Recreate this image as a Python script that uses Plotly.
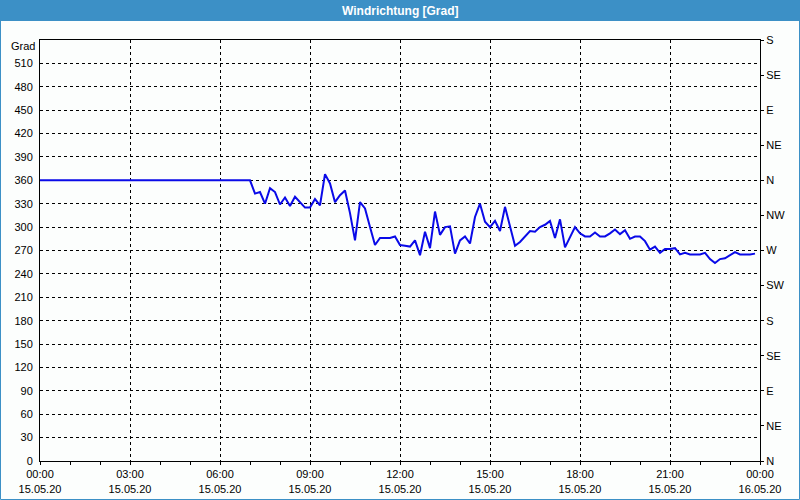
import plotly.graph_objects as go
import pandas as pd

# Wind direction [deg], one value every 10 minutes starting 15.05.20 00:00
start_time = "2020-05-15 00:00"
wind_deg = [
    360, 360, 360, 360, 360, 360, 360, 360, 360, 360, 360, 360,  # 00:00-01:50
    360, 360, 360, 360, 360, 360, 360, 360, 360, 360, 360, 360,  # 02:00-03:50
    360, 360, 360, 360, 360, 360, 360, 360, 360, 360, 360, 360,  # 04:00-05:50
    360, 360, 360, 360, 360, 360,                                # 06:00-06:50
    360, 343, 345, 330, 350, 345, 329, 338, 327, 339, 332, 325,  # 07:00-08:50
    325, 336, 328, 368, 356, 332, 341, 347, 318, 283, 332, 324,  # 09:00-10:50
    300, 277, 286, 286, 286, 288, 277, 276, 275, 283, 264, 294,  # 11:00-12:50
    273, 320, 290, 300, 301, 266, 283, 288, 279, 313, 330, 307,  # 13:00-14:50
    300, 308, 295, 326, 300, 276, 281, 288, 295, 294, 300, 303,  # 15:00-16:50
    308, 286, 310, 274, 288, 300, 292, 288, 288, 293, 288, 288,  # 17:00-18:50
    292, 297, 291, 296, 285, 288, 288, 282, 271, 275, 267, 272,  # 19:00-20:50
    272, 273, 265, 267, 265, 265, 265, 267, 259, 254, 259, 260,  # 21:00-22:50
    264, 268, 265, 265, 265, 266,                                # 23:00-23:50
]
left_ticks = list(range(0, 540, 30))
right_tickvals = [0, 45, 90, 135, 180, 225, 270, 315, 360, 405, 450, 495, 540]
right_ticktext = ["N", "NE", "E", "SE", "S", "SW", "W", "NW", "N", "NE", "E", "SE", "S"]
title_text = "Windrichtung [Grad]"
unit_text = "Grad"

times = pd.date_range(start_time, periods=len(wind_deg), freq="10min")

W, H = 800, 500
ML, MR, MT, MB = 40, 40, 40, 39
PW, PH = W - ML - MR, H - MT - MB
BG = "#fcfefd"
BAR = "#3c90c6"
FONT = "Liberation Sans"

fig = go.Figure()
fig.add_trace(go.Scatter(x=times, y=wind_deg, mode="lines",
                         line=dict(color="#0a0ae8", width=2),
                         hoverinfo="skip", showlegend=False))
fig.add_trace(go.Scatter(x=[times[0]], y=[0], mode="lines", yaxis="y2",
                         line=dict(color="rgba(0,0,0,0)"),
                         hoverinfo="skip", showlegend=False))

def px_x(p):
    return (p - ML) / PW

def px_y(p):
    return (H - MB - p) / PH

fig.update_layout(
    width=W, height=H,
    margin=dict(l=ML, r=MR, t=MT, b=MB, pad=0, autoexpand=False),
    paper_bgcolor=BG, plot_bgcolor=BG,
    font=dict(family=FONT, size=11, color="black"),
    xaxis=dict(
        type="date", automargin=False,
        range=["2020-05-15 00:00", "2020-05-16 00:00"],
        dtick=3 * 3600 * 1000,
        tick0="2020-05-15 00:00",
        tickformat="%H:%M<br>%d.%m.%y",
        showgrid=True, gridcolor="black", gridwidth=1, griddash="3px,3px",
        showline=True, linecolor="black", linewidth=1, mirror=True,
        ticks="outside", ticklen=3, tickcolor="black",
        minor=dict(dtick=3600 * 1000, ticks="outside", ticklen=3,
                   tickcolor="black", showgrid=False),
        zeroline=False,
        tickfont=dict(family=FONT, size=11),
    ),
    yaxis=dict(
        range=[0, 540], automargin=False,
        tickvals=left_ticks,
        showgrid=True, gridcolor="black", gridwidth=1, griddash="3px,3px",
        showline=True, linecolor="black", linewidth=1, mirror=True,
        ticks="", ticklabelstandoff=4,
        zeroline=False,
        tickfont=dict(family=FONT, size=11),
    ),
    yaxis2=dict(
        range=[0, 540], automargin=False,
        overlaying="y", side="right",
        tickvals=right_tickvals, ticktext=right_ticktext,
        showgrid=False, zeroline=False,
        ticks="outside", ticklen=3, tickcolor="black",
        showline=False,
        tickfont=dict(family=FONT, size=11),
    ),
    shapes=[
        dict(type="rect", xref="paper", yref="paper",
             x0=px_x(0), x1=px_x(W), y0=px_y(21), y1=px_y(0),
             fillcolor=BAR, line=dict(width=0), layer="above"),
        dict(type="rect", xref="paper", yref="paper",
             x0=px_x(0.5), x1=px_x(W - 0.5), y0=px_y(H - 0.5), y1=px_y(0.5),
             fillcolor="rgba(0,0,0,0)", line=dict(color=BAR, width=1), layer="above"),
    ],
    annotations=[
        dict(text="<b>" + title_text + "</b>", xref="paper", yref="paper",
             x=px_x(W / 2), y=px_y(10.5), xanchor="center", yanchor="middle",
             showarrow=False, font=dict(family=FONT, size=12, color="white")),
        dict(text=unit_text, xref="paper", yref="paper",
             x=px_x(37), y=px_y(46), xanchor="right", yanchor="middle",
             showarrow=False, font=dict(family=FONT, size=11, color="black")),
    ],
)

fig.write_html("out.html", config={"displayModeBar": False})
